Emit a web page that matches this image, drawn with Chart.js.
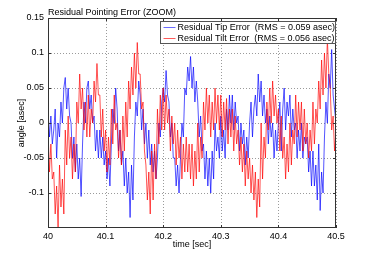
<!DOCTYPE html>
<html>
<head>
<meta charset="utf-8">
<script src="https://cdn.jsdelivr.net/npm/chart.js@4.4.0/dist/chart.umd.min.js"></script>
<style>
  html, body { margin: 0; padding: 0; background: #fff; }
</style>
</head>
<body>
<canvas id="chart" width="371" height="257"></canvas>
<script>
// sample grid: 40.0 .. 40.5 sec
const tStart = 40;
const tStep = 0.0025;

// residual tip error [asec] (blue)
const tipError = [
  0.02, -0.02, 0.01, -0.03,   -0.01, 0.02, -0.05, 0.00,   -0.02, 0.03, 0.00, 0.05,   0.065, 0.02, 0.05, 0.01,
  0.00, -0.05, -0.02, -0.07,  -0.03, -0.08, -0.05, -0.105, -0.03, 0.03, 0.00, 0.05,  0.06, 0.02, 0.04, 0.00,
  0.01, -0.04, -0.01, -0.05,  -0.01, -0.05, -0.02, -0.06, -0.04, -0.08, -0.05, -0.09, -0.03, 0.02, 0.00, 0.05,
  0.02, -0.04, -0.01, -0.06,  -0.04, -0.09, -0.05, -0.10, -0.07, -0.135, -0.06, -0.11, -0.02, 0.03, 0.01, 0.06,
  0.04, -0.01, 0.02, -0.03,   0.00, -0.05, -0.01, -0.06,  -0.03, -0.07, -0.04, -0.08, -0.05, 0.00, -0.02, 0.03,
  0.05, 0.03, 0.075, 0.04,    0.03, -0.02, 0.00, -0.05,   -0.05, -0.09, -0.06, -0.10, -0.05, 0.00, -0.02, 0.05,
  0.04, 0.08, 0.06, 0.095,    0.05, 0.08, 0.03, 0.06,     0.03, -0.02, 0.01, -0.04,   -0.03, -0.08, -0.04, -0.09,
  -0.05, -0.10, -0.04, -0.08, 0.00, -0.04, -0.02, -0.05,  0.01, -0.04, -0.01, -0.05,  0.02, -0.01, 0.04, 0.00,
  0.04, -0.01, 0.03, 0.00,    0.01, -0.04, 0.00, -0.03,   -0.01, -0.06, -0.02, -0.05, 0.00, 0.03, -0.02, 0.02,
  0.04, 0.01, 0.07, 0.03,     0.06, 0.01, 0.04, 0.00,     0.02, -0.03, 0.01, -0.02,   0.00, -0.05, -0.01, -0.04,
  0.00, 0.03, -0.04, 0.02,    0.05, -0.01, 0.03, 0.01,    0.04, -0.02, 0.02, -0.01,   0.00, -0.05, -0.01, -0.04,
  0.00, -0.05, -0.02, -0.03,  -0.02, -0.07, -0.04, -0.09, -0.04, -0.09, -0.06, -0.11, -0.03, -0.125, -0.07, -0.10,
  -0.02, 0.03, 0.00, 0.07,    0.05, 0.105, 0.04, 0.02,
  0.00
];

// residual tilt error [asec] (red)
const tiltError = [
  -0.01, -0.07, -0.03, -0.08, -0.07, -0.13, -0.09, -0.15, -0.06, -0.12, -0.08, -0.13, -0.01, -0.06, 0.01, -0.05,
  -0.02, -0.08, -0.03, -0.07, 0.03, 0.00, 0.07, 0.02,     0.05, -0.01, 0.03, -0.02,   0.04, -0.02, 0.02, 0.00,
  0.06, 0.03, 0.085, 0.04,    0.04, -0.02, 0.02, -0.04,   -0.01, -0.07, -0.02, -0.06, 0.02, -0.03, 0.04, -0.01,
  0.00, -0.05, -0.01, -0.06,  0.01, -0.04, 0.03, -0.02,   0.06, 0.02, 0.08, 0.04,     0.10, 0.05, 0.115, 0.07,
  0.07, 0.02, 0.03, -0.04,    -0.06, -0.11, -0.07, -0.13, -0.04, -0.11, -0.03, -0.08, 0.02, -0.03, 0.04, -0.01,
  0.05, -0.01, 0.04, 0.00,    0.02, -0.04, 0.01, -0.03,   0.00, -0.06, -0.01, -0.05, -0.02, -0.08, -0.03, -0.07,
  -0.02, -0.07, -0.03, -0.08, -0.03, -0.09, -0.04, -0.08, 0.00, -0.07, -0.02, -0.05,  0.03, -0.01, 0.05, 0.00,
  0.04, -0.02, 0.03, -0.01,   0.05, 0.00, 0.04, -0.01,    0.04, -0.02, 0.03, -0.01,   0.035, -0.03, 0.02, -0.02,
  0.02, -0.04, 0.01, -0.03,   -0.01, -0.06, -0.02, -0.07, -0.03, -0.09, -0.04, -0.08, -0.05, -0.10, -0.06, -0.11,
  -0.07, -0.135, -0.08, -0.12, 0.00, -0.08, -0.02, -0.05, 0.03, -0.01, 0.05, 0.00,    0.06, 0.01, 0.04, 0.00,
  0.02, -0.04, 0.01, -0.05,   -0.02, -0.08, -0.03, -0.07, 0.00, -0.06, -0.01, -0.03,  0.04, -0.02, 0.03, -0.01,
  0.03, -0.04, 0.02, -0.03,   0.00, -0.05, -0.01, -0.04,  0.03, -0.03, 0.02, 0.00,    0.06, 0.02, 0.09, 0.04,
  0.10, 0.05, 0.12, 0.07,     0.05, -0.01, 0.01, -0.04,
  -0.01
];

const xTicks = [40, 40.1, 40.2, 40.3, 40.4, 40.5];
const yTicks = [-0.1, -0.05, 0, 0.05, 0.1, 0.15];
const seriesLabels = [
  'Residual Tip Error  (RMS = 0.059 asec)',
  'Residual Tilt Error  (RMS = 0.056 asec)'
];
const chartTitle = 'Residual Pointing Error (ZOOM)';

const times = tipError.map((_, i) => +(tStart + i * tStep).toFixed(4));
const FONT = '"Liberation Sans", Arial, Helvetica, sans-serif';

// dotted grid under the data
const dottedGrid = {
  id: 'dottedGrid',
  beforeDatasetsDraw(chart) {
    const { ctx, chartArea: a, scales } = chart;
    ctx.save();
    ctx.strokeStyle = '#9a9a9a';
    ctx.lineWidth = 1;
    ctx.setLineDash([1, 2]);
    ctx.beginPath();
    xTicks.forEach(v => {
      const x = Math.round(scales.x.getPixelForValue(v)) + 0.5;
      ctx.moveTo(x, a.top); ctx.lineTo(x, a.bottom);
    });
    yTicks.forEach(v => {
      const y = Math.round(scales.y.getPixelForValue(v)) + 0.5;
      ctx.moveTo(a.left, y); ctx.lineTo(a.right, y);
    });
    ctx.stroke();
    ctx.restore();
  }
};

// matlab style frame, inward ticks, title and legend box
const matlabFrame = {
  id: 'matlabFrame',
  afterDatasetsDraw(chart) {
    const { ctx, chartArea: a, scales } = chart;
    ctx.save();
    ctx.strokeStyle = '#333';
    ctx.lineWidth = 1;
    ctx.strokeRect(Math.round(a.left) + 0.5, Math.round(a.top) + 0.5,
      Math.round(a.right - a.left) - 1, Math.round(a.bottom - a.top) - 1);

    // tick marks pointing in
    ctx.beginPath();
    xTicks.forEach(v => {
      const x = Math.round(scales.x.getPixelForValue(v)) + 0.5;
      ctx.moveTo(x, a.bottom); ctx.lineTo(x, a.bottom - 3);
      ctx.moveTo(x, a.top); ctx.lineTo(x, a.top + 3);
    });
    yTicks.forEach(v => {
      const y = Math.round(scales.y.getPixelForValue(v)) + 0.5;
      ctx.moveTo(a.left, y); ctx.lineTo(a.left + 3, y);
      ctx.moveTo(a.right, y); ctx.lineTo(a.right - 3, y);
    });
    ctx.stroke();

    // title
    ctx.fillStyle = '#000';
    ctx.font = '9px ' + FONT;
    ctx.textBaseline = 'alphabetic';
    ctx.textAlign = 'left';
    ctx.fillText(chartTitle, a.left, a.top - 3);

    // legend
    const bx = 160.5, by = 21.5, bw = 175, bh = 22;
    ctx.fillStyle = '#fff';
    ctx.fillRect(bx, by, bw, bh);
    ctx.strokeStyle = '#555';
    ctx.strokeRect(bx, by, bw, bh);
    ctx.textBaseline = 'middle';
    chart.data.datasets.forEach((ds, i) => {
      const y = by + 5.5 + i * 11;
      ctx.strokeStyle = ds.legendColor;
      ctx.lineWidth = 1;
      ctx.beginPath();
      ctx.moveTo(bx + 3, Math.round(y) + 0.5);
      ctx.lineTo(bx + 15, Math.round(y) + 0.5);
      ctx.stroke();
      ctx.fillStyle = '#000';
      ctx.fillText(ds.label, bx + 17, y + 0.5);
    });
    ctx.restore();
  }
};

new Chart(document.getElementById('chart'), {
  type: 'line',
  data: {
    datasets: [
      {
        label: seriesLabels[0],
        data: tipError.map((v, i) => ({ x: times[i], y: v })),
        borderColor: 'rgba(0,0,255,0.85)',
        legendColor: '#6a6aff',
        borderWidth: 0.8,
        pointRadius: 0,
        order: 1
      },
      {
        label: seriesLabels[1],
        data: tiltError.map((v, i) => ({ x: times[i], y: v })),
        borderColor: 'rgba(255,0,0,0.85)',
        legendColor: '#ff5a5a',
        borderWidth: 0.8,
        pointRadius: 0,
        order: 0
      }
    ]
  },
  options: {
    responsive: false,
    animation: false,
    layout: { padding: { top: 18, right: 35, left: 0, bottom: 0 } },
    plugins: {
      legend: { display: false },
      title: { display: false },
      tooltip: { enabled: false }
    },
    scales: {
      x: {
        type: 'linear',
        min: 40,
        max: 40.5,
        afterBuildTicks: s => { s.ticks = xTicks.map(v => ({ value: v })); },
        afterFit: s => { s.height = 29; },
        ticks: {
          autoSkip: false,
          maxRotation: 0,
          padding: 3,
          color: '#000',
          font: { family: FONT, size: 9 },
          callback: v => String(+v.toFixed(1))
        },
        grid: { display: false, drawTicks: false },
        border: { display: false },
        title: {
          display: true,
          text: 'time [sec]',
          color: '#000',
          font: { family: FONT, size: 9 },
          padding: { top: 0, bottom: 7 }
        }
      },
      y: {
        min: -0.15,
        max: 0.15,
        afterBuildTicks: s => { s.ticks = yTicks.map(v => ({ value: v })); },
        afterFit: s => { s.width = 48; },
        ticks: {
          padding: 4,
          color: '#000',
          font: { family: FONT, size: 9 },
          callback: v => String(+v.toFixed(2))
        },
        grid: { display: false, drawTicks: false },
        border: { display: false },
        title: {
          display: true,
          text: 'angle [asec]',
          color: '#000',
          font: { family: FONT, size: 9 },
          padding: { top: 16, bottom: 0 }
        }
      }
    }
  },
  plugins: [dottedGrid, matlabFrame]
});
</script>
</body>
</html>
